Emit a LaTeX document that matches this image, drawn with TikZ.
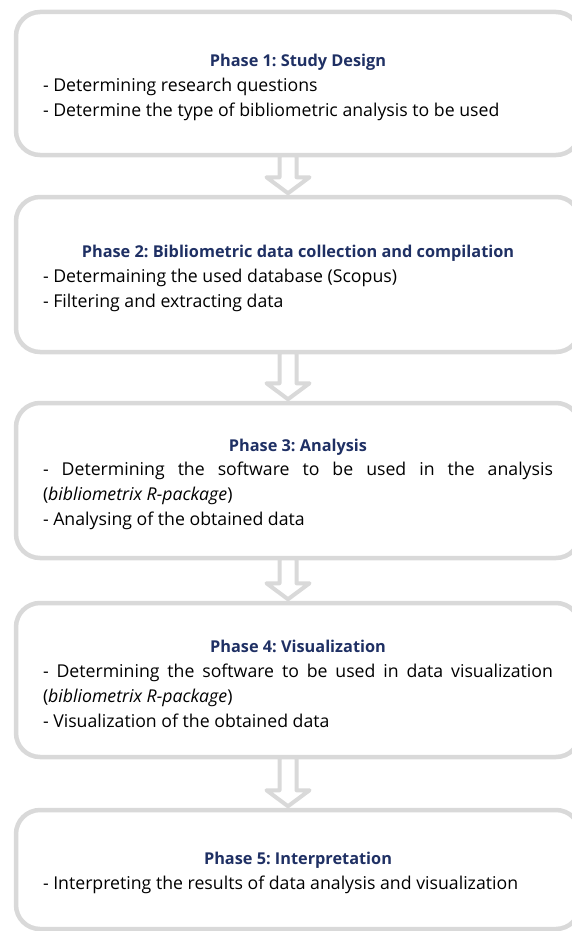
\documentclass[tikz,border=0pt]{standalone}
\usepackage{fontspec}
\setmainfont{Open Sans}
\usetikzlibrary{calc}
\definecolor{boxgray}{HTML}{D9D9D9}
\definecolor{phaseblue}{HTML}{1F3064}
\setlength{\parindent}{0pt}
\frenchspacing
\newcommand{\ptitle}[1]{{\centering\bfseries\fontsize{16.3}{24.8}\selectfont\color{phaseblue}\rule{0pt}{20pt}#1\par}}
% hollow block arrow from the bottom of one phase to the top of the next
\newcommand{\phasearrow}[2]{%
  \draw[blockarrow] let \p1=($(#1.south)+(-10,2)$), \p2=($(#2.north)+(-10,1.5)$) in
    (\x1-8.5,\y1) -- (\x1-8.5,\y2+16) -- (\x1-21.5,\y2+16) -- (\x2,\y2)
    -- (\x1+21.5,\y2+16) -- (\x1+8.5,\y2+16) -- (\x1+8.5,\y1) -- cycle;}
\begin{document}
\begin{tikzpicture}[x=1pt,y=1pt,
    phase/.style={draw=boxgray,line width=4.5pt,rounded corners=24pt,fill=white,
      text width=510pt,align=justify,inner xsep=27pt,inner ysep=0pt,
      font=\fontsize{17.7}{24.8}\selectfont},
    blockarrow/.style={draw=boxgray,fill=white,line width=4pt,line join=round}]
  \useasboundingbox (0,0) rectangle (572,-931);
  \node[phase,minimum height=143pt] (p1) at (298,-83.5) {\ptitle{Phase 1: Study Design}
    - Determining research questions\par
    - Determine the type of bibliometric analysis to be used};
  \node[phase,minimum height=155pt] (p2) at (298,-274.5) {\ptitle{Phase 2: Bibliometric data collection and compilation}
    - Determaining the used database (Scopus)\par
    - Filtering and extracting data};
  \node[phase,minimum height=155pt] (p3) at (298,-480.5) {\ptitle{Phase 3: Analysis}
    - Determining the software to be used in the analysis\linebreak
    (\textit{bibliometrix R-package})\par
    - Analysing of the obtained data};
  \node[phase,minimum height=154pt] (p4) at (298,-680) {\ptitle{Phase 4: Visualization}
    - Determining the software to be used in data visualization\linebreak
    (\textit{bibliometrix R-package})\par
    - Visualization of the obtained data};
  \node[phase,minimum height=119pt] (p5) at (298,-869.5) {\ptitle{Phase 5: Interpretation}
    - Interpreting the results of data analysis and visualization};
  % arrows between the phases
  \phasearrow{p1}{p2}
  \phasearrow{p2}{p3}
  \phasearrow{p3}{p4}
  \phasearrow{p4}{p5}
\end{tikzpicture}
\end{document}
